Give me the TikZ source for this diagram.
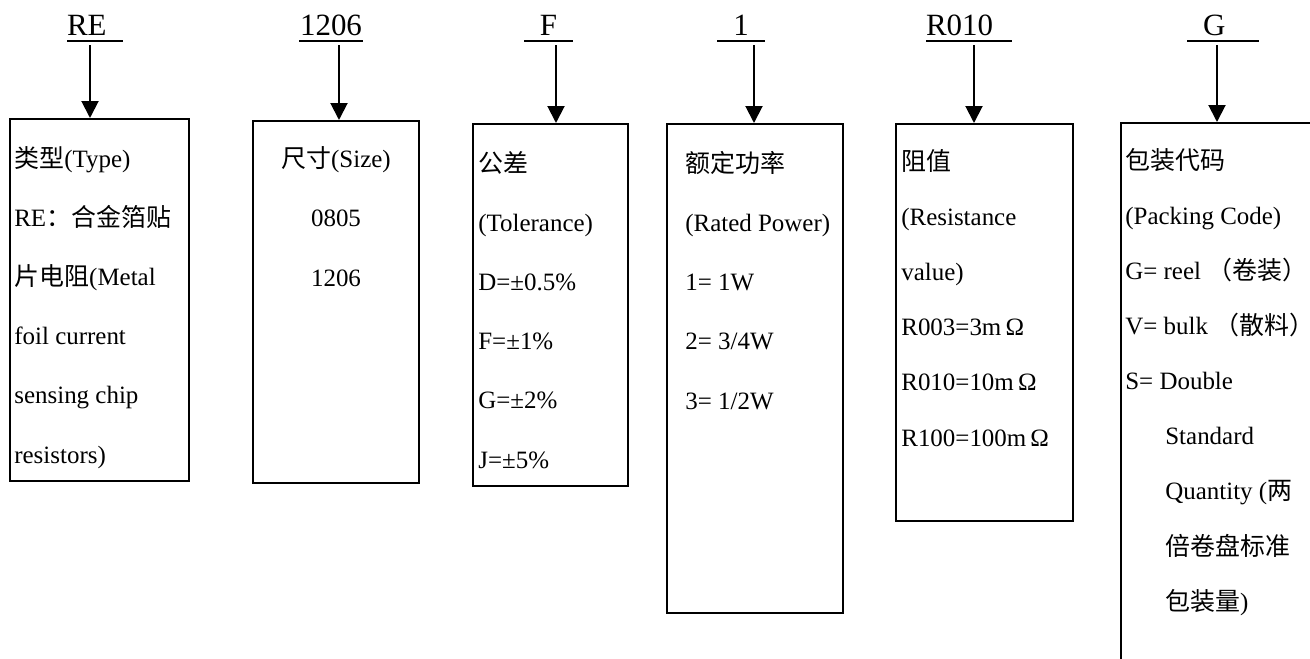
\documentclass[tikz,border=0pt]{standalone}
\usepackage{fontspec}
\setmainfont{Liberation Serif}
\newfontfamily\zhfont{Noto Sans CJK SC}
\newcommand{\zh}[1]{{\zhfont #1}}
\usetikzlibrary{arrows.meta,calc}

\begin{document}
\begin{tikzpicture}[x=0.2mm,y=-0.2mm,line cap=butt,
  >={Triangle[width=3.4mm,length=3.4mm]},
  code/.style={font=\fontsize{17.6pt}{20pt}\selectfont,inner sep=0pt,outer sep=0pt,
    text depth=1mm,anchor=south west},
  field/.style 2 args={draw,line width=0.4mm,minimum width=#1,minimum height=#2,
    inner sep=0pt,anchor=north west},
  txt/.style={font=\fontsize{14.2pt}{33.6pt}\selectfont,align=left,inner sep=0pt,anchor=base west},
  arr/.style={->,line width=0.4mm}]
% Rahmen des Bildes (Pixelraster 1310 x 659)
\useasboundingbox (0,0) rectangle (1310,659);

% Codezeile oben
\node[code,text width=11.2mm,align=left] (cRE) at (67,41) {RE};
\node[code,text width=12.8mm,align=center] (cSize) at (299,41) {1206};
\node[code,text width=9.8mm,align=center] (cTol) at (524,41) {F};
\node[code,text width=9.6mm,align=center] (cPow) at (717,41) {1};
\node[code,text width=17.2mm,align=left] (cRes) at (926,41) {R010};
\node[code,text width=14.4mm,align=left] (cPack) at (1187,41) {\hspace*{3.2mm}G};
\foreach \c in {cRE,cSize,cTol,cPow,cRes,cPack}
  \draw[line width=0.45mm] (\c.south west) -- (\c.south east);

% Felder
\node[field={35.8mm}{72.4mm}] (typebox) at (9,118) {};
\node[field={33.2mm}{72.4mm}] (sizebox) at (252,120) {};
\node[field={31mm}{72.4mm}] (tolbox) at (472,123) {};
\node[field={35.2mm}{97.8mm}] (powbox) at (666,123) {};
\node[field={35.4mm}{79.4mm}] (resbox) at (895,123) {};
\node[field={42mm}{112mm}] (packbox) at (1120,122) {};

% Pfeile
\foreach \c/\b/\x in {cRE/typebox/90,cSize/sizebox/339,cTol/tolbox/556,
    cPow/powbox/754,cRes/resbox/974,cPack/packbox/1217}
  \draw[arr] ($(\c.south -| \x,0)+(0,4)$) -- (\b.north -| \x,0);

% Inhalte (Anker: Grundlinie der letzten Zeile)
\node[txt] (typetxt) at ($(typebox.north west)+(5,345)$)
 {\zh{类型}(Type)\\RE\zh{：合金箔贴}\\\zh{片电阻}(Metal\\foil current\\sensing chip\\resistors)};
\node[txt,align=center,anchor=base] (sizetxt) at ($(sizebox.north)+(0,166)$)
 {\zh{尺寸}(Size)\\0805\\1206};
\node[txt] (toltxt) at ($(tolbox.north west)+(6,345)$)
 {\zh{公差}\\(Tolerance)\\D=±0.5\%\\F=±1\%\\G=±2\%\\J=±5\%};
\node[txt] (powtxt) at ($(powbox.north west)+(19,286)$)
 {\zh{额定功率}\\(Rated Power)\\1= 1W\\2= 3/4W\\3= 1/2W};
\node[txt,font=\fontsize{14.2pt}{31.3pt}\selectfont] (restxt) at ($(resbox.north west)+(6,323)$)
 {\zh{阻值}\\(Resistance\\value)\\R003=3m\,Ω\\R010=10m\,Ω\\R100=100m\,Ω};
\node[txt,font=\fontsize{14.2pt}{31.3pt}\selectfont] (packtxt) at ($(packbox.north west)+(5,488)$)
 {\zh{包装代码}\\(Packing Code)\\G= reel \zh{（卷装）}\\V= bulk \zh{（散料）}\\S= Double\\
  \hspace*{8mm}Standard\\\hspace*{8mm}Quantity (\zh{两}\\\hspace*{8mm}\zh{倍卷盘标准}\\
  \hspace*{8mm}\zh{包装量})};
\end{tikzpicture}
\end{document}
